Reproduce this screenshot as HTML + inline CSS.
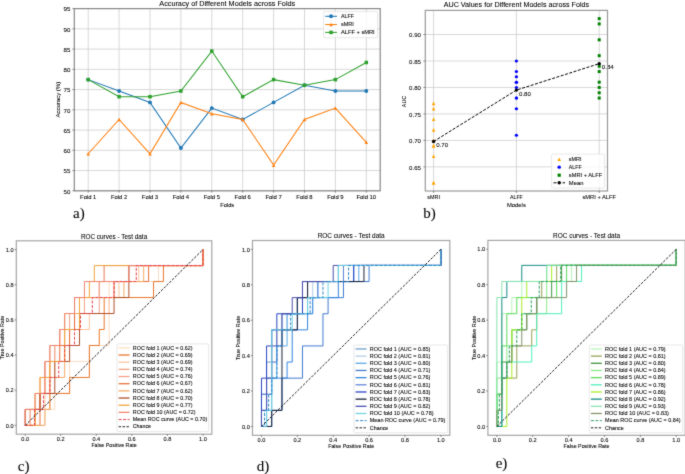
<!DOCTYPE html>
<html><head><meta charset="utf-8"><style>
html,body{margin:0;padding:0;background:#fff;overflow:hidden;}
svg{display:block;will-change:transform;}
svg text{font-family:"Liberation Sans",sans-serif;stroke:#000;stroke-width:0.08px;}
</style></head><body>
<svg width="685" height="474" viewBox="0 0 685 474">
<defs><filter id="soft" x="0" y="0" width="100%" height="100%" filterUnits="userSpaceOnUse" color-interpolation-filters="sRGB"><feConvolveMatrix order="3" kernelMatrix="0.02 0.08 0.02 0.08 0.60 0.08 0.02 0.08 0.02" divisor="1" edgeMode="duplicate"/></filter></defs>
<g filter="url(#soft)">
<rect width="685" height="474" fill="#fff"/>
<line x1="88.20" y1="8.60" x2="88.20" y2="190.80" stroke="#cecece" stroke-width="0.8"/>
<line x1="119.10" y1="8.60" x2="119.10" y2="190.80" stroke="#cecece" stroke-width="0.8"/>
<line x1="150.00" y1="8.60" x2="150.00" y2="190.80" stroke="#cecece" stroke-width="0.8"/>
<line x1="180.90" y1="8.60" x2="180.90" y2="190.80" stroke="#cecece" stroke-width="0.8"/>
<line x1="211.80" y1="8.60" x2="211.80" y2="190.80" stroke="#cecece" stroke-width="0.8"/>
<line x1="242.70" y1="8.60" x2="242.70" y2="190.80" stroke="#cecece" stroke-width="0.8"/>
<line x1="273.60" y1="8.60" x2="273.60" y2="190.80" stroke="#cecece" stroke-width="0.8"/>
<line x1="304.50" y1="8.60" x2="304.50" y2="190.80" stroke="#cecece" stroke-width="0.8"/>
<line x1="335.40" y1="8.60" x2="335.40" y2="190.80" stroke="#cecece" stroke-width="0.8"/>
<line x1="366.30" y1="8.60" x2="366.30" y2="190.80" stroke="#cecece" stroke-width="0.8"/>
<line x1="74.30" y1="190.80" x2="380.20" y2="190.80" stroke="#cecece" stroke-width="0.8"/>
<line x1="74.30" y1="170.56" x2="380.20" y2="170.56" stroke="#cecece" stroke-width="0.8"/>
<line x1="74.30" y1="150.31" x2="380.20" y2="150.31" stroke="#cecece" stroke-width="0.8"/>
<line x1="74.30" y1="130.07" x2="380.20" y2="130.07" stroke="#cecece" stroke-width="0.8"/>
<line x1="74.30" y1="109.82" x2="380.20" y2="109.82" stroke="#cecece" stroke-width="0.8"/>
<line x1="74.30" y1="89.58" x2="380.20" y2="89.58" stroke="#cecece" stroke-width="0.8"/>
<line x1="74.30" y1="69.33" x2="380.20" y2="69.33" stroke="#cecece" stroke-width="0.8"/>
<line x1="74.30" y1="49.09" x2="380.20" y2="49.09" stroke="#cecece" stroke-width="0.8"/>
<line x1="74.30" y1="28.84" x2="380.20" y2="28.84" stroke="#cecece" stroke-width="0.8"/>
<line x1="74.30" y1="8.60" x2="380.20" y2="8.60" stroke="#cecece" stroke-width="0.8"/>
<polyline points="88.20,79.62 119.10,90.99 150.00,102.41 180.90,148.04 211.80,108.12 242.70,119.50 273.60,102.41 304.50,85.29 335.40,90.99 366.30,90.99" fill="none" stroke="#1f77b4" stroke-width="1.05" stroke-linejoin="miter"/>
<circle cx="88.20" cy="79.62" r="1.95" fill="#1f77b4"/>
<circle cx="119.10" cy="90.99" r="1.95" fill="#1f77b4"/>
<circle cx="150.00" cy="102.41" r="1.95" fill="#1f77b4"/>
<circle cx="180.90" cy="148.04" r="1.95" fill="#1f77b4"/>
<circle cx="211.80" cy="108.12" r="1.95" fill="#1f77b4"/>
<circle cx="242.70" cy="119.50" r="1.95" fill="#1f77b4"/>
<circle cx="273.60" cy="102.41" r="1.95" fill="#1f77b4"/>
<circle cx="304.50" cy="85.29" r="1.95" fill="#1f77b4"/>
<circle cx="335.40" cy="90.99" r="1.95" fill="#1f77b4"/>
<circle cx="366.30" cy="90.99" r="1.95" fill="#1f77b4"/>
<polyline points="88.20,153.75 119.10,119.50 150.00,153.75 180.90,102.41 211.80,113.83 242.70,119.50 273.60,165.13 304.50,119.50 335.40,108.12 366.30,142.33" fill="none" stroke="#ff7f0e" stroke-width="1.05" stroke-linejoin="miter"/>
<polygon points="88.20,152.00 86.45,155.50 89.95,155.50" fill="#ff7f0e"/>
<polygon points="119.10,117.75 117.35,121.25 120.85,121.25" fill="#ff7f0e"/>
<polygon points="150.00,152.00 148.25,155.50 151.75,155.50" fill="#ff7f0e"/>
<polygon points="180.90,100.66 179.15,104.16 182.65,104.16" fill="#ff7f0e"/>
<polygon points="211.80,112.08 210.05,115.58 213.55,115.58" fill="#ff7f0e"/>
<polygon points="242.70,117.75 240.95,121.25 244.45,121.25" fill="#ff7f0e"/>
<polygon points="273.60,163.38 271.85,166.88 275.35,166.88" fill="#ff7f0e"/>
<polygon points="304.50,117.75 302.75,121.25 306.25,121.25" fill="#ff7f0e"/>
<polygon points="335.40,106.37 333.65,109.87 337.15,109.87" fill="#ff7f0e"/>
<polygon points="366.30,140.58 364.55,144.08 368.05,144.08" fill="#ff7f0e"/>
<polyline points="88.20,79.62 119.10,96.70 150.00,96.70 180.90,90.99 211.80,51.07 242.70,96.70 273.60,79.62 304.50,85.29 335.40,79.62 366.30,62.49" fill="none" stroke="#2ca02c" stroke-width="1.05" stroke-linejoin="miter"/>
<rect x="86.45" y="77.87" width="3.5" height="3.5" fill="#2ca02c"/>
<rect x="117.35" y="94.95" width="3.5" height="3.5" fill="#2ca02c"/>
<rect x="148.25" y="94.95" width="3.5" height="3.5" fill="#2ca02c"/>
<rect x="179.15" y="89.24" width="3.5" height="3.5" fill="#2ca02c"/>
<rect x="210.05" y="49.32" width="3.5" height="3.5" fill="#2ca02c"/>
<rect x="240.95" y="94.95" width="3.5" height="3.5" fill="#2ca02c"/>
<rect x="271.85" y="77.87" width="3.5" height="3.5" fill="#2ca02c"/>
<rect x="302.75" y="83.54" width="3.5" height="3.5" fill="#2ca02c"/>
<rect x="333.65" y="77.87" width="3.5" height="3.5" fill="#2ca02c"/>
<rect x="364.55" y="60.74" width="3.5" height="3.5" fill="#2ca02c"/>
<rect x="74.3" y="8.6" width="305.90" height="182.20" fill="none" stroke="#888" stroke-width="1.2"/>
<line x1="88.20" y1="190.80" x2="88.20" y2="192.70" stroke="#444" stroke-width="0.6"/>
<text x="88.20" y="198.90" font-size="5.94" text-anchor="middle" textLength="16.30" lengthAdjust="spacingAndGlyphs" fill="#000">Fold 1</text>
<line x1="119.10" y1="190.80" x2="119.10" y2="192.70" stroke="#444" stroke-width="0.6"/>
<text x="119.10" y="198.90" font-size="5.94" text-anchor="middle" textLength="16.30" lengthAdjust="spacingAndGlyphs" fill="#000">Fold 2</text>
<line x1="150.00" y1="190.80" x2="150.00" y2="192.70" stroke="#444" stroke-width="0.6"/>
<text x="150.00" y="198.90" font-size="5.94" text-anchor="middle" textLength="16.30" lengthAdjust="spacingAndGlyphs" fill="#000">Fold 3</text>
<line x1="180.90" y1="190.80" x2="180.90" y2="192.70" stroke="#444" stroke-width="0.6"/>
<text x="180.90" y="198.90" font-size="5.94" text-anchor="middle" textLength="16.30" lengthAdjust="spacingAndGlyphs" fill="#000">Fold 4</text>
<line x1="211.80" y1="190.80" x2="211.80" y2="192.70" stroke="#444" stroke-width="0.6"/>
<text x="211.80" y="198.90" font-size="5.94" text-anchor="middle" textLength="16.30" lengthAdjust="spacingAndGlyphs" fill="#000">Fold 5</text>
<line x1="242.70" y1="190.80" x2="242.70" y2="192.70" stroke="#444" stroke-width="0.6"/>
<text x="242.70" y="198.90" font-size="5.94" text-anchor="middle" textLength="16.30" lengthAdjust="spacingAndGlyphs" fill="#000">Fold 6</text>
<line x1="273.60" y1="190.80" x2="273.60" y2="192.70" stroke="#444" stroke-width="0.6"/>
<text x="273.60" y="198.90" font-size="5.94" text-anchor="middle" textLength="16.30" lengthAdjust="spacingAndGlyphs" fill="#000">Fold 7</text>
<line x1="304.50" y1="190.80" x2="304.50" y2="192.70" stroke="#444" stroke-width="0.6"/>
<text x="304.50" y="198.90" font-size="5.94" text-anchor="middle" textLength="16.30" lengthAdjust="spacingAndGlyphs" fill="#000">Fold 8</text>
<line x1="335.40" y1="190.80" x2="335.40" y2="192.70" stroke="#444" stroke-width="0.6"/>
<text x="335.40" y="198.90" font-size="5.94" text-anchor="middle" textLength="16.30" lengthAdjust="spacingAndGlyphs" fill="#000">Fold 9</text>
<line x1="366.30" y1="190.80" x2="366.30" y2="192.70" stroke="#444" stroke-width="0.6"/>
<text x="366.30" y="198.90" font-size="5.94" text-anchor="middle" textLength="19.73" lengthAdjust="spacingAndGlyphs" fill="#000">Fold 10</text>
<line x1="72.40" y1="190.80" x2="74.30" y2="190.80" stroke="#444" stroke-width="0.6"/>
<text x="70.40" y="193.60" font-size="5.94" text-anchor="end" textLength="6.87" lengthAdjust="spacingAndGlyphs" fill="#000">50</text>
<line x1="72.40" y1="170.56" x2="74.30" y2="170.56" stroke="#444" stroke-width="0.6"/>
<text x="70.40" y="173.36" font-size="5.94" text-anchor="end" textLength="6.87" lengthAdjust="spacingAndGlyphs" fill="#000">55</text>
<line x1="72.40" y1="150.31" x2="74.30" y2="150.31" stroke="#444" stroke-width="0.6"/>
<text x="70.40" y="153.11" font-size="5.94" text-anchor="end" textLength="6.87" lengthAdjust="spacingAndGlyphs" fill="#000">60</text>
<line x1="72.40" y1="130.07" x2="74.30" y2="130.07" stroke="#444" stroke-width="0.6"/>
<text x="70.40" y="132.87" font-size="5.94" text-anchor="end" textLength="6.87" lengthAdjust="spacingAndGlyphs" fill="#000">65</text>
<line x1="72.40" y1="109.82" x2="74.30" y2="109.82" stroke="#444" stroke-width="0.6"/>
<text x="70.40" y="112.62" font-size="5.94" text-anchor="end" textLength="6.87" lengthAdjust="spacingAndGlyphs" fill="#000">70</text>
<line x1="72.40" y1="89.58" x2="74.30" y2="89.58" stroke="#444" stroke-width="0.6"/>
<text x="70.40" y="92.38" font-size="5.94" text-anchor="end" textLength="6.87" lengthAdjust="spacingAndGlyphs" fill="#000">75</text>
<line x1="72.40" y1="69.33" x2="74.30" y2="69.33" stroke="#444" stroke-width="0.6"/>
<text x="70.40" y="72.13" font-size="5.94" text-anchor="end" textLength="6.87" lengthAdjust="spacingAndGlyphs" fill="#000">80</text>
<line x1="72.40" y1="49.09" x2="74.30" y2="49.09" stroke="#444" stroke-width="0.6"/>
<text x="70.40" y="51.89" font-size="5.94" text-anchor="end" textLength="6.87" lengthAdjust="spacingAndGlyphs" fill="#000">85</text>
<line x1="72.40" y1="28.84" x2="74.30" y2="28.84" stroke="#444" stroke-width="0.6"/>
<text x="70.40" y="31.64" font-size="5.94" text-anchor="end" textLength="6.87" lengthAdjust="spacingAndGlyphs" fill="#000">90</text>
<line x1="72.40" y1="8.60" x2="74.30" y2="8.60" stroke="#444" stroke-width="0.6"/>
<text x="70.40" y="11.40" font-size="5.94" text-anchor="end" textLength="6.87" lengthAdjust="spacingAndGlyphs" fill="#000">95</text>
<text x="227.25" y="206.50" font-size="5.94" text-anchor="middle" textLength="13.96" lengthAdjust="spacingAndGlyphs" fill="#000">Folds</text>
<text x="59.60" y="99.70" font-size="5.94" text-anchor="middle" textLength="35.72" lengthAdjust="spacingAndGlyphs" fill="#000" transform="rotate(-90 59.60 99.70)">Accuracy (%)</text>
<text x="227.25" y="5.60" font-size="7.18" text-anchor="middle" textLength="135.92" lengthAdjust="spacingAndGlyphs" fill="#000">Accuracy of Different Models across Folds</text>
<rect x="323.6" y="11.6" width="53.9" height="26.1" rx="1.2" fill="#fff" fill-opacity="0.8" stroke="#d8d8d8" stroke-width="0.6"/>
<line x1="325.20" y1="16.30" x2="336.90" y2="16.30" stroke="#1f77b4" stroke-width="1.05"/>
<circle cx="331.05" cy="16.3" r="1.95" fill="#1f77b4"/>
<text x="341.00" y="18.25" font-size="5.94" text-anchor="start" textLength="12.91" lengthAdjust="spacingAndGlyphs" fill="#000">ALFF</text>
<line x1="325.20" y1="24.50" x2="336.90" y2="24.50" stroke="#ff7f0e" stroke-width="1.05"/>
<polygon points="331.05,22.75 329.30,26.25 332.80,26.25" fill="#ff7f0e"/>
<text x="341.00" y="26.45" font-size="5.94" text-anchor="start" textLength="12.82" lengthAdjust="spacingAndGlyphs" fill="#000">sMRI</text>
<line x1="325.20" y1="32.40" x2="336.90" y2="32.40" stroke="#2ca02c" stroke-width="1.05"/>
<rect x="329.30" y="30.65" width="3.5" height="3.5" fill="#2ca02c"/>
<text x="341.00" y="34.35" font-size="5.94" text-anchor="start" textLength="33.69" lengthAdjust="spacingAndGlyphs" fill="#000">ALFF + sMRI</text>
<line x1="433.58" y1="10.40" x2="433.58" y2="191.00" stroke="#cecece" stroke-width="0.8"/>
<line x1="516.40" y1="10.40" x2="516.40" y2="191.00" stroke="#cecece" stroke-width="0.8"/>
<line x1="599.22" y1="10.40" x2="599.22" y2="191.00" stroke="#cecece" stroke-width="0.8"/>
<line x1="425.30" y1="166.90" x2="607.50" y2="166.90" stroke="#cecece" stroke-width="0.8"/>
<line x1="425.30" y1="140.42" x2="607.50" y2="140.42" stroke="#cecece" stroke-width="0.8"/>
<line x1="425.30" y1="113.94" x2="607.50" y2="113.94" stroke="#cecece" stroke-width="0.8"/>
<line x1="425.30" y1="87.46" x2="607.50" y2="87.46" stroke="#cecece" stroke-width="0.8"/>
<line x1="425.30" y1="60.98" x2="607.50" y2="60.98" stroke="#cecece" stroke-width="0.8"/>
<line x1="425.30" y1="34.50" x2="607.50" y2="34.50" stroke="#cecece" stroke-width="0.8"/>
<polygon points="433.58,180.99 431.78,184.59 435.38,184.59" fill="#ffa500"/>
<polygon points="433.58,143.92 431.78,147.52 435.38,147.52" fill="#ffa500"/>
<polygon points="433.58,143.92 431.78,147.52 435.38,147.52" fill="#ffa500"/>
<polygon points="433.58,117.44 431.78,121.04 435.38,121.04" fill="#ffa500"/>
<polygon points="433.58,106.84 431.78,110.44 435.38,110.44" fill="#ffa500"/>
<polygon points="433.58,154.51 431.78,158.11 435.38,158.11" fill="#ffa500"/>
<polygon points="433.58,180.99 431.78,184.59 435.38,184.59" fill="#ffa500"/>
<polygon points="433.58,138.62 431.78,142.22 435.38,142.22" fill="#ffa500"/>
<polygon points="433.58,101.55 431.78,105.15 435.38,105.15" fill="#ffa500"/>
<polygon points="433.58,128.03 431.78,131.63 435.38,131.63" fill="#ffa500"/>
<ellipse cx="516.40" cy="60.98" rx="1.65" ry="1.5" fill="#0000ff"/>
<ellipse cx="516.40" cy="82.16" rx="1.65" ry="1.5" fill="#0000ff"/>
<ellipse cx="516.40" cy="87.46" rx="1.65" ry="1.5" fill="#0000ff"/>
<ellipse cx="516.40" cy="135.13" rx="1.65" ry="1.5" fill="#0000ff"/>
<ellipse cx="516.40" cy="108.64" rx="1.65" ry="1.5" fill="#0000ff"/>
<ellipse cx="516.40" cy="82.16" rx="1.65" ry="1.5" fill="#0000ff"/>
<ellipse cx="516.40" cy="71.57" rx="1.65" ry="1.5" fill="#0000ff"/>
<ellipse cx="516.40" cy="98.05" rx="1.65" ry="1.5" fill="#0000ff"/>
<ellipse cx="516.40" cy="76.87" rx="1.65" ry="1.5" fill="#0000ff"/>
<ellipse cx="516.40" cy="98.05" rx="1.65" ry="1.5" fill="#0000ff"/>
<rect x="597.72" y="91.26" width="3.0" height="3.0" fill="#008000"/>
<rect x="597.72" y="80.66" width="3.0" height="3.0" fill="#008000"/>
<rect x="597.72" y="85.96" width="3.0" height="3.0" fill="#008000"/>
<rect x="597.72" y="64.77" width="3.0" height="3.0" fill="#008000"/>
<rect x="597.72" y="38.29" width="3.0" height="3.0" fill="#008000"/>
<rect x="597.72" y="96.55" width="3.0" height="3.0" fill="#008000"/>
<rect x="597.72" y="54.18" width="3.0" height="3.0" fill="#008000"/>
<rect x="597.72" y="22.41" width="3.0" height="3.0" fill="#008000"/>
<rect x="597.72" y="17.11" width="3.0" height="3.0" fill="#008000"/>
<rect x="597.72" y="70.07" width="3.0" height="3.0" fill="#008000"/>
<polyline points="433.58,141.48 516.40,90.11 599.22,63.63" fill="none" stroke="#000" stroke-width="1.0" stroke-dasharray="3,1.5" stroke-linejoin="miter"/>
<circle cx="433.58" cy="141.48" r="1.7" fill="#000"/>
<text x="436.18" y="146.88" font-size="5.88" text-anchor="start" textLength="11.91" lengthAdjust="spacingAndGlyphs" fill="#000">0.70</text>
<circle cx="516.40" cy="90.11" r="1.7" fill="#000"/>
<text x="519.00" y="95.51" font-size="5.88" text-anchor="start" textLength="11.91" lengthAdjust="spacingAndGlyphs" fill="#000">0.80</text>
<circle cx="599.22" cy="63.63" r="1.7" fill="#000"/>
<text x="601.82" y="69.03" font-size="5.88" text-anchor="start" textLength="11.91" lengthAdjust="spacingAndGlyphs" fill="#000">0.84</text>
<rect x="425.3" y="10.4" width="182.20" height="180.60" fill="none" stroke="#999" stroke-width="1.2"/>
<line x1="433.58" y1="191.00" x2="433.58" y2="192.90" stroke="#444" stroke-width="0.6"/>
<text x="433.58" y="198.90" font-size="5.88" text-anchor="middle" textLength="12.70" lengthAdjust="spacingAndGlyphs" fill="#000">sMRI</text>
<line x1="516.40" y1="191.00" x2="516.40" y2="192.90" stroke="#444" stroke-width="0.6"/>
<text x="516.40" y="198.90" font-size="5.88" text-anchor="middle" textLength="12.79" lengthAdjust="spacingAndGlyphs" fill="#000">ALFF</text>
<line x1="599.22" y1="191.00" x2="599.22" y2="192.90" stroke="#444" stroke-width="0.6"/>
<text x="599.22" y="198.90" font-size="5.88" text-anchor="middle" textLength="33.38" lengthAdjust="spacingAndGlyphs" fill="#000">sMRI + ALFF</text>
<line x1="423.40" y1="166.90" x2="425.30" y2="166.90" stroke="#444" stroke-width="0.6"/>
<text x="421.00" y="169.70" font-size="5.88" text-anchor="end" textLength="11.91" lengthAdjust="spacingAndGlyphs" fill="#000">0.65</text>
<line x1="423.40" y1="140.42" x2="425.30" y2="140.42" stroke="#444" stroke-width="0.6"/>
<text x="421.00" y="143.22" font-size="5.88" text-anchor="end" textLength="11.91" lengthAdjust="spacingAndGlyphs" fill="#000">0.70</text>
<line x1="423.40" y1="113.94" x2="425.30" y2="113.94" stroke="#444" stroke-width="0.6"/>
<text x="421.00" y="116.74" font-size="5.88" text-anchor="end" textLength="11.91" lengthAdjust="spacingAndGlyphs" fill="#000">0.75</text>
<line x1="423.40" y1="87.46" x2="425.30" y2="87.46" stroke="#444" stroke-width="0.6"/>
<text x="421.00" y="90.26" font-size="5.88" text-anchor="end" textLength="11.91" lengthAdjust="spacingAndGlyphs" fill="#000">0.80</text>
<line x1="423.40" y1="60.98" x2="425.30" y2="60.98" stroke="#444" stroke-width="0.6"/>
<text x="421.00" y="63.78" font-size="5.88" text-anchor="end" textLength="11.91" lengthAdjust="spacingAndGlyphs" fill="#000">0.85</text>
<line x1="423.40" y1="34.50" x2="425.30" y2="34.50" stroke="#444" stroke-width="0.6"/>
<text x="421.00" y="37.30" font-size="5.88" text-anchor="end" textLength="11.91" lengthAdjust="spacingAndGlyphs" fill="#000">0.90</text>
<text x="516.40" y="206.60" font-size="5.88" text-anchor="middle" textLength="18.85" lengthAdjust="spacingAndGlyphs" fill="#000">Models</text>
<text x="405.80" y="101.50" font-size="5.88" text-anchor="middle" textLength="11.31" lengthAdjust="spacingAndGlyphs" fill="#000" transform="rotate(-90 405.80 101.50)">AUC</text>
<text x="516.40" y="7.30" font-size="7.15" text-anchor="middle" textLength="145.34" lengthAdjust="spacingAndGlyphs" fill="#000">AUC Values for Different Models across Folds</text>
<rect x="551.6" y="154.1" width="52.9" height="33.9" rx="1.2" fill="#fff" fill-opacity="0.8" stroke="#d8d8d8" stroke-width="0.6"/>
<polygon points="559.20,157.40 557.40,161.00 561.00,161.00" fill="#ffa500"/>
<ellipse cx="559.2" cy="167.2" rx="1.75" ry="1.65" fill="#0000ff"/>
<rect x="557.60" y="173.60" width="3.2" height="3.2" fill="#008000"/>
<line x1="553.50" y1="182.80" x2="565.00" y2="182.80" stroke="#000" stroke-width="1.0" stroke-dasharray="3,1.5"/>
<circle cx="559.2" cy="182.8" r="1.7" fill="#000"/>
<text x="568.80" y="161.10" font-size="5.88" text-anchor="start" textLength="12.70" lengthAdjust="spacingAndGlyphs" fill="#000">sMRI</text>
<text x="568.80" y="169.10" font-size="5.88" text-anchor="start" textLength="12.79" lengthAdjust="spacingAndGlyphs" fill="#000">ALFF</text>
<text x="568.80" y="177.10" font-size="5.88" text-anchor="start" textLength="33.38" lengthAdjust="spacingAndGlyphs" fill="#000">sMRI + ALFF</text>
<text x="568.80" y="184.70" font-size="5.88" text-anchor="start" textLength="14.58" lengthAdjust="spacingAndGlyphs" fill="#000">Mean</text>
<!--ROC-->
<polyline points="25.19,425.41 44.93,425.41 44.93,409.43 54.81,409.43 54.81,393.44 69.62,393.44 69.62,361.48 89.37,361.48 89.37,345.49 109.11,345.49 109.11,281.56 158.48,281.56 158.48,265.57 202.91,265.57 202.91,249.59" fill="none" stroke="#fddcc0" stroke-width="1.0" stroke-linejoin="miter"/>
<polyline points="25.19,425.41 35.06,425.41 35.06,409.43 49.87,409.43 49.87,393.44 69.62,393.44 69.62,377.46 89.37,377.46 89.37,345.49 99.24,345.49 99.24,329.51 104.18,329.51 104.18,297.54 153.54,297.54 153.54,281.56 163.42,281.56 163.42,265.57 202.91,265.57 202.91,249.59" fill="none" stroke="#e9762b" stroke-width="1.0" stroke-linejoin="miter"/>
<polyline points="25.19,425.41 30.12,425.41 30.12,409.43 44.93,409.43 44.93,377.46 54.81,377.46 54.81,345.49 69.62,345.49 69.62,329.51 89.37,329.51 89.37,313.52 109.11,313.52 109.11,297.54 118.99,297.54 118.99,281.56 138.73,281.56 138.73,265.57 202.91,265.57 202.91,249.59" fill="none" stroke="#fbc4a0" stroke-width="1.0" stroke-linejoin="miter"/>
<polyline points="25.19,425.41 25.19,409.43 40.00,409.43 40.00,393.44 44.93,393.44 44.93,361.48 49.87,361.48 49.87,345.49 59.74,345.49 59.74,329.51 69.62,329.51 69.62,313.52 84.43,313.52 84.43,297.54 99.24,297.54 99.24,281.56 104.18,281.56 104.18,265.57 202.91,265.57 202.91,249.59" fill="none" stroke="#f2a283" stroke-width="1.0" stroke-linejoin="miter"/>
<polyline points="25.19,425.41 30.12,425.41 30.12,409.43 40.00,409.43 40.00,377.46 44.93,377.46 44.93,361.48 54.81,361.48 54.81,345.49 59.74,345.49 59.74,329.51 74.56,329.51 74.56,313.52 99.24,313.52 99.24,281.56 104.18,281.56 104.18,265.57 202.91,265.57 202.91,249.59" fill="none" stroke="#f0a08a" stroke-width="1.0" stroke-linejoin="miter"/>
<polyline points="25.19,425.41 40.00,425.41 40.00,393.44 49.87,393.44 49.87,361.48 59.74,361.48 59.74,345.49 69.62,345.49 69.62,329.51 74.56,329.51 74.56,297.54 114.05,297.54 114.05,281.56 148.61,281.56 148.61,265.57 202.91,265.57 202.91,249.59" fill="none" stroke="#e8703c" stroke-width="1.0" stroke-linejoin="miter"/>
<polyline points="25.19,425.41 44.93,425.41 44.93,409.43 49.87,409.43 49.87,377.46 64.68,377.46 64.68,313.52 79.49,313.52 79.49,297.54 123.92,297.54 123.92,281.56 143.67,281.56 143.67,265.57 202.91,265.57 202.91,249.59" fill="none" stroke="#f4aa66" stroke-width="1.0" stroke-linejoin="miter"/>
<polyline points="25.19,425.41 25.19,409.43 40.00,409.43 40.00,393.44 54.81,393.44 54.81,361.48 69.62,361.48 69.62,345.49 79.49,345.49 79.49,313.52 114.05,313.52 114.05,297.54 128.86,297.54 128.86,265.57 202.91,265.57 202.91,249.59" fill="none" stroke="#b0502a" stroke-width="1.0" stroke-linejoin="miter"/>
<polyline points="25.19,425.41 35.06,425.41 35.06,393.44 40.00,393.44 40.00,377.46 49.87,377.46 49.87,361.48 64.68,361.48 64.68,329.51 79.49,329.51 79.49,297.54 89.37,297.54 89.37,281.56 94.30,281.56 94.30,265.57 202.91,265.57 202.91,249.59" fill="none" stroke="#f0a43a" stroke-width="1.0" stroke-linejoin="miter"/>
<polyline points="25.19,425.41 25.19,409.43 35.06,409.43 35.06,393.44 44.93,393.44 44.93,361.48 49.87,361.48 49.87,345.49 59.74,345.49 59.74,329.51 64.68,329.51 64.68,313.52 74.56,313.52 74.56,297.54 84.43,297.54 84.43,281.56 128.86,281.56 128.86,265.57 202.91,265.57 202.91,249.59" fill="none" stroke="#f08470" stroke-width="1.0" stroke-linejoin="miter"/>
<polyline points="25.19,425.41 34.57,425.41 34.57,409.43 43.45,409.43 43.45,393.44 49.87,393.44 49.87,377.46 58.76,377.46 58.76,361.48 64.68,361.48 64.68,345.49 74.56,345.49 74.56,329.51 80.48,329.51 80.48,313.52 92.33,313.52 92.33,297.54 114.05,297.54 114.05,281.56 136.27,281.56 136.27,265.57 202.91,265.57 202.91,249.59" fill="none" stroke="#e8404c" stroke-width="1.0" stroke-dasharray="3,1.5" stroke-linejoin="miter"/>
<line x1="25.19" y1="425.41" x2="202.91" y2="249.59" stroke="#111" stroke-width="0.95" stroke-dasharray="2.5,1.4"/>
<rect x="16.3" y="240.8" width="195.50" height="193.40" fill="none" stroke="#a6a6a6" stroke-width="1.2"/>
<line x1="25.19" y1="434.20" x2="25.19" y2="435.90" stroke="#444" stroke-width="0.6"/>
<text x="25.19" y="440.50" font-size="5.37" text-anchor="middle" textLength="7.76" lengthAdjust="spacingAndGlyphs" fill="#000">0.0</text>
<line x1="14.60" y1="425.41" x2="16.30" y2="425.41" stroke="#444" stroke-width="0.6"/>
<text x="13.60" y="427.61" font-size="5.37" text-anchor="end" textLength="7.76" lengthAdjust="spacingAndGlyphs" fill="#000">0.0</text>
<line x1="60.73" y1="434.20" x2="60.73" y2="435.90" stroke="#444" stroke-width="0.6"/>
<text x="60.73" y="440.50" font-size="5.37" text-anchor="middle" textLength="7.76" lengthAdjust="spacingAndGlyphs" fill="#000">0.2</text>
<line x1="14.60" y1="390.25" x2="16.30" y2="390.25" stroke="#444" stroke-width="0.6"/>
<text x="13.60" y="392.45" font-size="5.37" text-anchor="end" textLength="7.76" lengthAdjust="spacingAndGlyphs" fill="#000">0.2</text>
<line x1="96.28" y1="434.20" x2="96.28" y2="435.90" stroke="#444" stroke-width="0.6"/>
<text x="96.28" y="440.50" font-size="5.37" text-anchor="middle" textLength="7.76" lengthAdjust="spacingAndGlyphs" fill="#000">0.4</text>
<line x1="14.60" y1="355.08" x2="16.30" y2="355.08" stroke="#444" stroke-width="0.6"/>
<text x="13.60" y="357.28" font-size="5.37" text-anchor="end" textLength="7.76" lengthAdjust="spacingAndGlyphs" fill="#000">0.4</text>
<line x1="131.82" y1="434.20" x2="131.82" y2="435.90" stroke="#444" stroke-width="0.6"/>
<text x="131.82" y="440.50" font-size="5.37" text-anchor="middle" textLength="7.76" lengthAdjust="spacingAndGlyphs" fill="#000">0.6</text>
<line x1="14.60" y1="319.92" x2="16.30" y2="319.92" stroke="#444" stroke-width="0.6"/>
<text x="13.60" y="322.12" font-size="5.37" text-anchor="end" textLength="7.76" lengthAdjust="spacingAndGlyphs" fill="#000">0.6</text>
<line x1="167.37" y1="434.20" x2="167.37" y2="435.90" stroke="#444" stroke-width="0.6"/>
<text x="167.37" y="440.50" font-size="5.37" text-anchor="middle" textLength="7.76" lengthAdjust="spacingAndGlyphs" fill="#000">0.8</text>
<line x1="14.60" y1="284.75" x2="16.30" y2="284.75" stroke="#444" stroke-width="0.6"/>
<text x="13.60" y="286.95" font-size="5.37" text-anchor="end" textLength="7.76" lengthAdjust="spacingAndGlyphs" fill="#000">0.8</text>
<line x1="202.91" y1="434.20" x2="202.91" y2="435.90" stroke="#444" stroke-width="0.6"/>
<text x="202.91" y="440.50" font-size="5.37" text-anchor="middle" textLength="7.76" lengthAdjust="spacingAndGlyphs" fill="#000">1.0</text>
<line x1="14.60" y1="249.59" x2="16.30" y2="249.59" stroke="#444" stroke-width="0.6"/>
<text x="13.60" y="251.79" font-size="5.37" text-anchor="end" textLength="7.76" lengthAdjust="spacingAndGlyphs" fill="#000">1.0</text>
<text x="114.05" y="446.60" font-size="5.37" text-anchor="middle" textLength="45.35" lengthAdjust="spacingAndGlyphs" fill="#000">False Positive Rate</text>
<text x="4.20" y="337.50" font-size="5.37" text-anchor="middle" textLength="43.47" lengthAdjust="spacingAndGlyphs" fill="#000" transform="rotate(-90 4.20 337.50)">True Positive Rate</text>
<text x="114.05" y="238.60" font-size="6.42" text-anchor="middle" textLength="66.32" lengthAdjust="spacingAndGlyphs" fill="#000">ROC curves - Test data</text>
<rect x="117.00" y="343.90" width="91.60" height="87.70" rx="1.1" fill="#fff" fill-opacity="0.8" stroke="#d8d8d8" stroke-width="0.6"/>
<line x1="118.60" y1="347.85" x2="129.50" y2="347.85" stroke="#fddcc0" stroke-width="1.3"/>
<text x="132.80" y="349.55" font-size="5.37" text-anchor="start" textLength="59.74" lengthAdjust="spacingAndGlyphs" fill="#000">ROC fold 1 (AUC = 0.62)</text>
<line x1="118.60" y1="355.02" x2="129.50" y2="355.02" stroke="#e9762b" stroke-width="1.3"/>
<text x="132.80" y="356.72" font-size="5.37" text-anchor="start" textLength="59.74" lengthAdjust="spacingAndGlyphs" fill="#000">ROC fold 2 (AUC = 0.69)</text>
<line x1="118.60" y1="362.19" x2="129.50" y2="362.19" stroke="#fbc4a0" stroke-width="1.3"/>
<text x="132.80" y="363.89" font-size="5.37" text-anchor="start" textLength="59.74" lengthAdjust="spacingAndGlyphs" fill="#000">ROC fold 3 (AUC = 0.69)</text>
<line x1="118.60" y1="369.36" x2="129.50" y2="369.36" stroke="#f2a283" stroke-width="1.3"/>
<text x="132.80" y="371.06" font-size="5.37" text-anchor="start" textLength="59.74" lengthAdjust="spacingAndGlyphs" fill="#000">ROC fold 4 (AUC = 0.74)</text>
<line x1="118.60" y1="376.53" x2="129.50" y2="376.53" stroke="#f0a08a" stroke-width="1.3"/>
<text x="132.80" y="378.23" font-size="5.37" text-anchor="start" textLength="59.74" lengthAdjust="spacingAndGlyphs" fill="#000">ROC fold 5 (AUC = 0.76)</text>
<line x1="118.60" y1="383.70" x2="129.50" y2="383.70" stroke="#e8703c" stroke-width="1.3"/>
<text x="132.80" y="385.40" font-size="5.37" text-anchor="start" textLength="59.74" lengthAdjust="spacingAndGlyphs" fill="#000">ROC fold 6 (AUC = 0.67)</text>
<line x1="118.60" y1="390.87" x2="129.50" y2="390.87" stroke="#f4aa66" stroke-width="1.3"/>
<text x="132.80" y="392.57" font-size="5.37" text-anchor="start" textLength="59.74" lengthAdjust="spacingAndGlyphs" fill="#000">ROC fold 7 (AUC = 0.62)</text>
<line x1="118.60" y1="398.04" x2="129.50" y2="398.04" stroke="#b0502a" stroke-width="1.3"/>
<text x="132.80" y="399.74" font-size="5.37" text-anchor="start" textLength="59.74" lengthAdjust="spacingAndGlyphs" fill="#000">ROC fold 8 (AUC = 0.70)</text>
<line x1="118.60" y1="405.21" x2="129.50" y2="405.21" stroke="#f0a43a" stroke-width="1.3"/>
<text x="132.80" y="406.91" font-size="5.37" text-anchor="start" textLength="59.74" lengthAdjust="spacingAndGlyphs" fill="#000">ROC fold 9 (AUC = 0.77)</text>
<line x1="118.60" y1="412.38" x2="129.50" y2="412.38" stroke="#f08470" stroke-width="1.3"/>
<text x="132.80" y="414.08" font-size="5.37" text-anchor="start" textLength="62.84" lengthAdjust="spacingAndGlyphs" fill="#000">ROC fold 10 (AUC = 0.72)</text>
<line x1="118.60" y1="419.55" x2="129.50" y2="419.55" stroke="#e8404c" stroke-width="1.0" stroke-dasharray="3,1.5"/>
<text x="132.80" y="421.25" font-size="5.37" text-anchor="start" textLength="74.44" lengthAdjust="spacingAndGlyphs" fill="#000">Mean ROC curve (AUC = 0.70)</text>
<line x1="118.60" y1="426.72" x2="129.50" y2="426.72" stroke="#222" stroke-width="1.0" stroke-dasharray="2.5,1.4"/>
<text x="132.80" y="428.42" font-size="5.37" text-anchor="start" textLength="18.27" lengthAdjust="spacingAndGlyphs" fill="#000">Chance</text>
<polyline points="261.47,426.45 261.47,394.25 266.59,394.25 266.59,362.05 271.72,362.05 271.72,329.85 281.97,329.85 281.97,313.75 297.34,313.75 297.34,297.65 307.59,297.65 307.59,281.55 338.34,281.55 338.34,265.45 440.83,265.45 440.83,249.35" fill="none" stroke="#6fa0cc" stroke-width="1.0" stroke-linejoin="miter"/>
<polyline points="261.47,426.45 266.59,426.45 266.59,394.25 271.72,394.25 271.72,362.05 276.84,362.05 276.84,329.85 287.09,329.85 287.09,313.75 312.71,313.75 312.71,281.55 343.46,281.55 343.46,265.45 440.83,265.45 440.83,249.35" fill="none" stroke="#b4cde6" stroke-width="1.0" stroke-linejoin="miter"/>
<polyline points="261.47,426.45 266.59,426.45 266.59,410.35 271.72,410.35 271.72,378.15 276.84,378.15 276.84,345.95 287.09,345.95 287.09,313.75 307.59,313.75 307.59,297.65 317.84,297.65 317.84,281.55 358.84,281.55 358.84,265.45 440.83,265.45 440.83,249.35" fill="none" stroke="#5aa8e8" stroke-width="1.0" stroke-linejoin="miter"/>
<polyline points="261.47,426.45 271.72,426.45 271.72,410.35 281.97,410.35 281.97,378.15 302.47,378.15 302.47,345.95 322.96,345.95 322.96,313.75 328.09,313.75 328.09,297.65 343.46,297.65 343.46,281.55 369.09,281.55 369.09,265.45 440.83,265.45 440.83,249.35" fill="none" stroke="#3f7ad0" stroke-width="1.0" stroke-linejoin="miter"/>
<polyline points="261.47,426.45 261.47,410.35 266.59,410.35 266.59,378.15 287.09,378.15 287.09,362.05 292.22,362.05 292.22,329.85 307.59,329.85 307.59,313.75 312.71,313.75 312.71,297.65 338.34,297.65 338.34,281.55 353.71,281.55 353.71,265.45 440.83,265.45 440.83,249.35" fill="none" stroke="#3185e0" stroke-width="1.0" stroke-linejoin="miter"/>
<polyline points="261.47,426.45 261.47,394.25 271.72,394.25 271.72,362.05 276.84,362.05 276.84,345.95 281.97,345.95 281.97,329.85 297.34,329.85 297.34,297.65 317.84,297.65 317.84,281.55 343.46,281.55 343.46,265.45 440.83,265.45 440.83,249.35" fill="none" stroke="#5f85d6" stroke-width="1.0" stroke-linejoin="miter"/>
<polyline points="261.47,426.45 261.47,378.15 266.59,378.15 266.59,345.95 271.72,345.95 271.72,329.85 276.84,329.85 276.84,313.75 302.47,313.75 302.47,281.55 353.71,281.55 353.71,265.45 440.83,265.45 440.83,249.35" fill="none" stroke="#2a44c4" stroke-width="1.0" stroke-linejoin="miter"/>
<polyline points="261.47,426.45 271.72,426.45 271.72,410.35 281.97,410.35 281.97,329.85 297.34,329.85 297.34,297.65 307.59,297.65 307.59,281.55 363.96,281.55 363.96,265.45 440.83,265.45 440.83,249.35" fill="none" stroke="#1a2238" stroke-width="1.0" stroke-linejoin="miter"/>
<polyline points="261.47,426.45 261.47,410.35 266.59,410.35 266.59,378.15 271.72,378.15 271.72,345.95 276.84,345.95 276.84,329.85 281.97,329.85 281.97,313.75 292.22,313.75 292.22,297.65 302.47,297.65 302.47,281.55 333.21,281.55 333.21,265.45 440.83,265.45 440.83,249.35" fill="none" stroke="#4a50b0" stroke-width="1.0" stroke-linejoin="miter"/>
<polyline points="261.47,426.45 266.59,426.45 266.59,410.35 271.72,410.35 271.72,329.85 292.22,329.85 292.22,313.75 307.59,313.75 307.59,297.65 328.09,297.65 328.09,281.55 338.34,281.55 338.34,265.45 440.83,265.45 440.83,249.35" fill="none" stroke="#70d4e0" stroke-width="1.0" stroke-linejoin="miter"/>
<polyline points="261.47,426.45 264.54,426.45 264.54,410.35 268.64,410.35 268.64,394.25 271.72,394.25 271.72,378.15 276.84,378.15 276.84,345.95 281.97,345.95 281.97,329.85 290.68,329.85 290.68,313.75 310.15,313.75 310.15,297.65 322.96,297.65 322.96,281.55 348.59,281.55 348.59,265.45 440.83,265.45 440.83,249.35" fill="none" stroke="#2e86c8" stroke-width="1.0" stroke-dasharray="3,1.5" stroke-linejoin="miter"/>
<line x1="261.47" y1="426.45" x2="440.83" y2="249.35" stroke="#111" stroke-width="0.95" stroke-dasharray="2.5,1.4"/>
<rect x="252.5" y="240.5" width="197.30" height="194.80" fill="none" stroke="#a6a6a6" stroke-width="1.2"/>
<line x1="261.47" y1="435.30" x2="261.47" y2="437.00" stroke="#444" stroke-width="0.6"/>
<text x="261.47" y="441.60" font-size="5.45" text-anchor="middle" textLength="7.87" lengthAdjust="spacingAndGlyphs" fill="#000">0.0</text>
<line x1="250.80" y1="426.45" x2="252.50" y2="426.45" stroke="#444" stroke-width="0.6"/>
<text x="249.80" y="428.65" font-size="5.45" text-anchor="end" textLength="7.87" lengthAdjust="spacingAndGlyphs" fill="#000">0.0</text>
<line x1="297.34" y1="435.30" x2="297.34" y2="437.00" stroke="#444" stroke-width="0.6"/>
<text x="297.34" y="441.60" font-size="5.45" text-anchor="middle" textLength="7.87" lengthAdjust="spacingAndGlyphs" fill="#000">0.2</text>
<line x1="250.80" y1="391.03" x2="252.50" y2="391.03" stroke="#444" stroke-width="0.6"/>
<text x="249.80" y="393.23" font-size="5.45" text-anchor="end" textLength="7.87" lengthAdjust="spacingAndGlyphs" fill="#000">0.2</text>
<line x1="333.21" y1="435.30" x2="333.21" y2="437.00" stroke="#444" stroke-width="0.6"/>
<text x="333.21" y="441.60" font-size="5.45" text-anchor="middle" textLength="7.87" lengthAdjust="spacingAndGlyphs" fill="#000">0.4</text>
<line x1="250.80" y1="355.61" x2="252.50" y2="355.61" stroke="#444" stroke-width="0.6"/>
<text x="249.80" y="357.81" font-size="5.45" text-anchor="end" textLength="7.87" lengthAdjust="spacingAndGlyphs" fill="#000">0.4</text>
<line x1="369.09" y1="435.30" x2="369.09" y2="437.00" stroke="#444" stroke-width="0.6"/>
<text x="369.09" y="441.60" font-size="5.45" text-anchor="middle" textLength="7.87" lengthAdjust="spacingAndGlyphs" fill="#000">0.6</text>
<line x1="250.80" y1="320.19" x2="252.50" y2="320.19" stroke="#444" stroke-width="0.6"/>
<text x="249.80" y="322.39" font-size="5.45" text-anchor="end" textLength="7.87" lengthAdjust="spacingAndGlyphs" fill="#000">0.6</text>
<line x1="404.96" y1="435.30" x2="404.96" y2="437.00" stroke="#444" stroke-width="0.6"/>
<text x="404.96" y="441.60" font-size="5.45" text-anchor="middle" textLength="7.87" lengthAdjust="spacingAndGlyphs" fill="#000">0.8</text>
<line x1="250.80" y1="284.77" x2="252.50" y2="284.77" stroke="#444" stroke-width="0.6"/>
<text x="249.80" y="286.97" font-size="5.45" text-anchor="end" textLength="7.87" lengthAdjust="spacingAndGlyphs" fill="#000">0.8</text>
<line x1="440.83" y1="435.30" x2="440.83" y2="437.00" stroke="#444" stroke-width="0.6"/>
<text x="440.83" y="441.60" font-size="5.45" text-anchor="middle" textLength="7.87" lengthAdjust="spacingAndGlyphs" fill="#000">1.0</text>
<line x1="250.80" y1="249.35" x2="252.50" y2="249.35" stroke="#444" stroke-width="0.6"/>
<text x="249.80" y="251.55" font-size="5.45" text-anchor="end" textLength="7.87" lengthAdjust="spacingAndGlyphs" fill="#000">1.0</text>
<text x="351.15" y="447.70" font-size="5.45" text-anchor="middle" textLength="46.00" lengthAdjust="spacingAndGlyphs" fill="#000">False Positive Rate</text>
<text x="240.40" y="337.90" font-size="5.45" text-anchor="middle" textLength="44.09" lengthAdjust="spacingAndGlyphs" fill="#000" transform="rotate(-90 240.40 337.90)">True Positive Rate</text>
<text x="351.15" y="238.30" font-size="6.49" text-anchor="middle" textLength="67.01" lengthAdjust="spacingAndGlyphs" fill="#000">ROC curves - Test data</text>
<rect x="354.00" y="345.00" width="93.60" height="87.70" rx="1.1" fill="#fff" fill-opacity="0.8" stroke="#d8d8d8" stroke-width="0.6"/>
<line x1="355.60" y1="348.95" x2="366.50" y2="348.95" stroke="#6fa0cc" stroke-width="1.3"/>
<text x="369.80" y="350.65" font-size="5.45" text-anchor="start" textLength="60.59" lengthAdjust="spacingAndGlyphs" fill="#000">ROC fold 1 (AUC = 0.85)</text>
<line x1="355.60" y1="356.12" x2="366.50" y2="356.12" stroke="#b4cde6" stroke-width="1.3"/>
<text x="369.80" y="357.82" font-size="5.45" text-anchor="start" textLength="60.59" lengthAdjust="spacingAndGlyphs" fill="#000">ROC fold 2 (AUC = 0.81)</text>
<line x1="355.60" y1="363.29" x2="366.50" y2="363.29" stroke="#5aa8e8" stroke-width="1.3"/>
<text x="369.80" y="364.99" font-size="5.45" text-anchor="start" textLength="60.59" lengthAdjust="spacingAndGlyphs" fill="#000">ROC fold 3 (AUC = 0.80)</text>
<line x1="355.60" y1="370.46" x2="366.50" y2="370.46" stroke="#3f7ad0" stroke-width="1.3"/>
<text x="369.80" y="372.16" font-size="5.45" text-anchor="start" textLength="60.59" lengthAdjust="spacingAndGlyphs" fill="#000">ROC fold 4 (AUC = 0.71)</text>
<line x1="355.60" y1="377.63" x2="366.50" y2="377.63" stroke="#3185e0" stroke-width="1.3"/>
<text x="369.80" y="379.33" font-size="5.45" text-anchor="start" textLength="60.59" lengthAdjust="spacingAndGlyphs" fill="#000">ROC fold 5 (AUC = 0.76)</text>
<line x1="355.60" y1="384.80" x2="366.50" y2="384.80" stroke="#5f85d6" stroke-width="1.3"/>
<text x="369.80" y="386.50" font-size="5.45" text-anchor="start" textLength="60.59" lengthAdjust="spacingAndGlyphs" fill="#000">ROC fold 6 (AUC = 0.81)</text>
<line x1="355.60" y1="391.97" x2="366.50" y2="391.97" stroke="#2a44c4" stroke-width="1.3"/>
<text x="369.80" y="393.67" font-size="5.45" text-anchor="start" textLength="60.59" lengthAdjust="spacingAndGlyphs" fill="#000">ROC fold 7 (AUC = 0.83)</text>
<line x1="355.60" y1="399.14" x2="366.50" y2="399.14" stroke="#1a2238" stroke-width="1.3"/>
<text x="369.80" y="400.84" font-size="5.45" text-anchor="start" textLength="60.59" lengthAdjust="spacingAndGlyphs" fill="#000">ROC fold 8 (AUC = 0.78)</text>
<line x1="355.60" y1="406.31" x2="366.50" y2="406.31" stroke="#4a50b0" stroke-width="1.3"/>
<text x="369.80" y="408.01" font-size="5.45" text-anchor="start" textLength="60.59" lengthAdjust="spacingAndGlyphs" fill="#000">ROC fold 9 (AUC = 0.82)</text>
<line x1="355.60" y1="413.48" x2="366.50" y2="413.48" stroke="#70d4e0" stroke-width="1.3"/>
<text x="369.80" y="415.18" font-size="5.45" text-anchor="start" textLength="63.74" lengthAdjust="spacingAndGlyphs" fill="#000">ROC fold 10 (AUC = 0.78)</text>
<line x1="355.60" y1="420.65" x2="366.50" y2="420.65" stroke="#2e86c8" stroke-width="1.0" stroke-dasharray="3,1.5"/>
<text x="369.80" y="422.35" font-size="5.45" text-anchor="start" textLength="75.51" lengthAdjust="spacingAndGlyphs" fill="#000">Mean ROC curve (AUC = 0.79)</text>
<line x1="355.60" y1="427.82" x2="366.50" y2="427.82" stroke="#222" stroke-width="1.0" stroke-dasharray="2.5,1.4"/>
<text x="369.80" y="429.52" font-size="5.45" text-anchor="start" textLength="18.53" lengthAdjust="spacingAndGlyphs" fill="#000">Chance</text>
<polyline points="496.87,426.44 496.87,362.01 501.85,362.01 501.85,313.69 511.82,313.69 511.82,297.58 521.78,297.58 521.78,281.47 571.60,281.47 571.60,265.37 676.23,265.37 676.23,249.26" fill="none" stroke="#b8f5b8" stroke-width="1.0" stroke-linejoin="miter"/>
<polyline points="496.87,426.44 496.87,410.33 501.85,410.33 501.85,378.12 516.80,378.12 516.80,345.90 531.74,345.90 531.74,329.80 536.73,329.80 536.73,297.58 541.71,297.58 541.71,281.47 556.66,281.47 556.66,265.37 676.23,265.37 676.23,249.26" fill="none" stroke="#9aa258" stroke-width="1.0" stroke-linejoin="miter"/>
<polyline points="496.87,426.44 496.87,394.23 501.85,394.23 501.85,362.01 511.82,362.01 511.82,329.80 526.76,329.80 526.76,313.69 536.73,313.69 536.73,297.58 551.67,297.58 551.67,281.47 561.64,281.47 561.64,265.37 676.23,265.37 676.23,249.26" fill="none" stroke="#3e963e" stroke-width="1.0" stroke-linejoin="miter"/>
<polyline points="496.87,426.44 496.87,378.12 506.83,378.12 506.83,345.90 511.82,345.90 511.82,329.80 521.78,329.80 521.78,313.69 546.69,313.69 546.69,265.37 676.23,265.37 676.23,249.26" fill="none" stroke="#88ea88" stroke-width="1.0" stroke-linejoin="miter"/>
<polyline points="496.87,426.44 496.87,394.23 501.85,394.23 501.85,345.90 506.83,345.90 506.83,313.69 516.80,313.69 516.80,297.58 556.66,297.58 556.66,281.47 566.62,281.47 566.62,265.37 676.23,265.37 676.23,249.26" fill="none" stroke="#58dc58" stroke-width="1.0" stroke-linejoin="miter"/>
<polyline points="496.87,426.44 501.85,426.44 501.85,378.12 506.83,378.12 506.83,362.01 531.74,362.01 531.74,345.90 536.73,345.90 536.73,313.69 561.64,313.69 561.64,281.47 581.57,281.47 581.57,265.37 676.23,265.37 676.23,249.26" fill="none" stroke="#50eebc" stroke-width="1.0" stroke-linejoin="miter"/>
<polyline points="496.87,426.44 506.83,426.44 506.83,378.12 511.82,378.12 511.82,329.80 521.78,329.80 521.78,297.58 526.76,297.58 526.76,281.47 551.67,281.47 551.67,265.37 676.23,265.37 676.23,249.26" fill="none" stroke="#a8ee28" stroke-width="1.0" stroke-linejoin="miter"/>
<polyline points="496.87,426.44 501.85,426.44 501.85,297.58 506.83,297.58 506.83,281.47 521.78,281.47 521.78,265.37 676.23,265.37 676.23,249.26" fill="none" stroke="#168c86" stroke-width="1.0" stroke-linejoin="miter"/>
<polyline points="496.87,426.44 496.87,297.58 501.85,297.58 501.85,281.47 546.69,281.47 546.69,265.37 676.23,265.37 676.23,249.26" fill="none" stroke="#88e4b0" stroke-width="1.0" stroke-linejoin="miter"/>
<polyline points="496.87,426.44 496.87,410.33 501.85,410.33 501.85,378.12 506.83,378.12 506.83,362.01 511.82,362.01 511.82,345.90 521.78,345.90 521.78,329.80 526.76,329.80 526.76,313.69 536.73,313.69 536.73,297.58 566.62,297.58 566.62,281.47 576.59,281.47 576.59,265.37 676.23,265.37 676.23,249.26" fill="none" stroke="#82946a" stroke-width="1.0" stroke-linejoin="miter"/>
<polyline points="496.87,426.44 498.36,426.44 498.36,410.33 499.36,410.33 499.36,394.23 501.85,394.23 501.85,378.12 506.83,378.12 506.83,362.01 509.32,362.01 509.32,345.90 516.80,345.90 516.80,329.80 521.78,329.80 521.78,313.69 531.25,313.69 531.25,297.58 539.22,297.58 539.22,281.47 560.64,281.47 560.64,265.37 676.23,265.37 676.23,249.26" fill="none" stroke="#30a060" stroke-width="1.0" stroke-dasharray="3,1.5" stroke-linejoin="miter"/>
<line x1="496.87" y1="426.44" x2="676.23" y2="249.26" stroke="#111" stroke-width="0.95" stroke-dasharray="2.5,1.4"/>
<rect x="487.9" y="240.4" width="197.30" height="194.90" fill="none" stroke="#a6a6a6" stroke-width="1.2"/>
<line x1="496.87" y1="435.30" x2="496.87" y2="437.00" stroke="#444" stroke-width="0.6"/>
<text x="496.87" y="441.60" font-size="5.45" text-anchor="middle" textLength="7.87" lengthAdjust="spacingAndGlyphs" fill="#000">0.0</text>
<line x1="486.20" y1="426.44" x2="487.90" y2="426.44" stroke="#444" stroke-width="0.6"/>
<text x="485.20" y="428.64" font-size="5.45" text-anchor="end" textLength="7.87" lengthAdjust="spacingAndGlyphs" fill="#000">0.0</text>
<line x1="532.74" y1="435.30" x2="532.74" y2="437.00" stroke="#444" stroke-width="0.6"/>
<text x="532.74" y="441.60" font-size="5.45" text-anchor="middle" textLength="7.87" lengthAdjust="spacingAndGlyphs" fill="#000">0.2</text>
<line x1="486.20" y1="391.00" x2="487.90" y2="391.00" stroke="#444" stroke-width="0.6"/>
<text x="485.20" y="393.20" font-size="5.45" text-anchor="end" textLength="7.87" lengthAdjust="spacingAndGlyphs" fill="#000">0.2</text>
<line x1="568.61" y1="435.30" x2="568.61" y2="437.00" stroke="#444" stroke-width="0.6"/>
<text x="568.61" y="441.60" font-size="5.45" text-anchor="middle" textLength="7.87" lengthAdjust="spacingAndGlyphs" fill="#000">0.4</text>
<line x1="486.20" y1="355.57" x2="487.90" y2="355.57" stroke="#444" stroke-width="0.6"/>
<text x="485.20" y="357.77" font-size="5.45" text-anchor="end" textLength="7.87" lengthAdjust="spacingAndGlyphs" fill="#000">0.4</text>
<line x1="604.49" y1="435.30" x2="604.49" y2="437.00" stroke="#444" stroke-width="0.6"/>
<text x="604.49" y="441.60" font-size="5.45" text-anchor="middle" textLength="7.87" lengthAdjust="spacingAndGlyphs" fill="#000">0.6</text>
<line x1="486.20" y1="320.13" x2="487.90" y2="320.13" stroke="#444" stroke-width="0.6"/>
<text x="485.20" y="322.33" font-size="5.45" text-anchor="end" textLength="7.87" lengthAdjust="spacingAndGlyphs" fill="#000">0.6</text>
<line x1="640.36" y1="435.30" x2="640.36" y2="437.00" stroke="#444" stroke-width="0.6"/>
<text x="640.36" y="441.60" font-size="5.45" text-anchor="middle" textLength="7.87" lengthAdjust="spacingAndGlyphs" fill="#000">0.8</text>
<line x1="486.20" y1="284.70" x2="487.90" y2="284.70" stroke="#444" stroke-width="0.6"/>
<text x="485.20" y="286.90" font-size="5.45" text-anchor="end" textLength="7.87" lengthAdjust="spacingAndGlyphs" fill="#000">0.8</text>
<line x1="676.23" y1="435.30" x2="676.23" y2="437.00" stroke="#444" stroke-width="0.6"/>
<text x="676.23" y="441.60" font-size="5.45" text-anchor="middle" textLength="7.87" lengthAdjust="spacingAndGlyphs" fill="#000">1.0</text>
<line x1="486.20" y1="249.26" x2="487.90" y2="249.26" stroke="#444" stroke-width="0.6"/>
<text x="485.20" y="251.46" font-size="5.45" text-anchor="end" textLength="7.87" lengthAdjust="spacingAndGlyphs" fill="#000">1.0</text>
<text x="586.55" y="447.70" font-size="5.45" text-anchor="middle" textLength="46.00" lengthAdjust="spacingAndGlyphs" fill="#000">False Positive Rate</text>
<text x="475.80" y="337.85" font-size="5.45" text-anchor="middle" textLength="44.09" lengthAdjust="spacingAndGlyphs" fill="#000" transform="rotate(-90 475.80 337.85)">True Positive Rate</text>
<text x="586.55" y="238.20" font-size="6.49" text-anchor="middle" textLength="67.01" lengthAdjust="spacingAndGlyphs" fill="#000">ROC curves - Test data</text>
<rect x="589.30" y="345.00" width="93.30" height="87.70" rx="1.1" fill="#fff" fill-opacity="0.8" stroke="#d8d8d8" stroke-width="0.6"/>
<line x1="590.90" y1="348.95" x2="601.80" y2="348.95" stroke="#b8f5b8" stroke-width="1.3"/>
<text x="605.10" y="350.65" font-size="5.45" text-anchor="start" textLength="60.59" lengthAdjust="spacingAndGlyphs" fill="#000">ROC fold 1 (AUC = 0.79)</text>
<line x1="590.90" y1="356.12" x2="601.80" y2="356.12" stroke="#9aa258" stroke-width="1.3"/>
<text x="605.10" y="357.82" font-size="5.45" text-anchor="start" textLength="60.59" lengthAdjust="spacingAndGlyphs" fill="#000">ROC fold 2 (AUC = 0.81)</text>
<line x1="590.90" y1="363.29" x2="601.80" y2="363.29" stroke="#3e963e" stroke-width="1.3"/>
<text x="605.10" y="364.99" font-size="5.45" text-anchor="start" textLength="60.59" lengthAdjust="spacingAndGlyphs" fill="#000">ROC fold 3 (AUC = 0.80)</text>
<line x1="590.90" y1="370.46" x2="601.80" y2="370.46" stroke="#88ea88" stroke-width="1.3"/>
<text x="605.10" y="372.16" font-size="5.45" text-anchor="start" textLength="60.59" lengthAdjust="spacingAndGlyphs" fill="#000">ROC fold 4 (AUC = 0.84)</text>
<line x1="590.90" y1="377.63" x2="601.80" y2="377.63" stroke="#58dc58" stroke-width="1.3"/>
<text x="605.10" y="379.33" font-size="5.45" text-anchor="start" textLength="60.59" lengthAdjust="spacingAndGlyphs" fill="#000">ROC fold 5 (AUC = 0.89)</text>
<line x1="590.90" y1="384.80" x2="601.80" y2="384.80" stroke="#50eebc" stroke-width="1.3"/>
<text x="605.10" y="386.50" font-size="5.45" text-anchor="start" textLength="60.59" lengthAdjust="spacingAndGlyphs" fill="#000">ROC fold 6 (AUC = 0.78)</text>
<line x1="590.90" y1="391.97" x2="601.80" y2="391.97" stroke="#a8ee28" stroke-width="1.3"/>
<text x="605.10" y="393.67" font-size="5.45" text-anchor="start" textLength="60.59" lengthAdjust="spacingAndGlyphs" fill="#000">ROC fold 7 (AUC = 0.86)</text>
<line x1="590.90" y1="399.14" x2="601.80" y2="399.14" stroke="#168c86" stroke-width="1.3"/>
<text x="605.10" y="400.84" font-size="5.45" text-anchor="start" textLength="60.59" lengthAdjust="spacingAndGlyphs" fill="#000">ROC fold 8 (AUC = 0.92)</text>
<line x1="590.90" y1="406.31" x2="601.80" y2="406.31" stroke="#88e4b0" stroke-width="1.3"/>
<text x="605.10" y="408.01" font-size="5.45" text-anchor="start" textLength="60.59" lengthAdjust="spacingAndGlyphs" fill="#000">ROC fold 9 (AUC = 0.93)</text>
<line x1="590.90" y1="413.48" x2="601.80" y2="413.48" stroke="#82946a" stroke-width="1.3"/>
<text x="605.10" y="415.18" font-size="5.45" text-anchor="start" textLength="63.74" lengthAdjust="spacingAndGlyphs" fill="#000">ROC fold 10 (AUC = 0.83)</text>
<line x1="590.90" y1="420.65" x2="601.80" y2="420.65" stroke="#30a060" stroke-width="1.0" stroke-dasharray="3,1.5"/>
<text x="605.10" y="422.35" font-size="5.45" text-anchor="start" textLength="75.51" lengthAdjust="spacingAndGlyphs" fill="#000">Mean ROC curve (AUC = 0.84)</text>
<line x1="590.90" y1="427.82" x2="601.80" y2="427.82" stroke="#222" stroke-width="1.0" stroke-dasharray="2.5,1.4"/>
<text x="605.10" y="429.52" font-size="5.45" text-anchor="start" textLength="18.53" lengthAdjust="spacingAndGlyphs" fill="#000">Chance</text>
<text x="73.0" y="218.3" style="font-family:&quot;Liberation Serif&quot;,serif" font-size="15">a)</text>
<text x="423.2" y="218.2" style="font-family:&quot;Liberation Serif&quot;,serif" font-size="15">b)</text>
<text x="17.8" y="470.9" style="font-family:&quot;Liberation Serif&quot;,serif" font-size="15">c)</text>
<text x="256.8" y="470.5" style="font-family:&quot;Liberation Serif&quot;,serif" font-size="15">d)</text>
<text x="495.7" y="467.7" style="font-family:&quot;Liberation Serif&quot;,serif" font-size="15">e)</text>
</g>
</svg>
</body></html>
